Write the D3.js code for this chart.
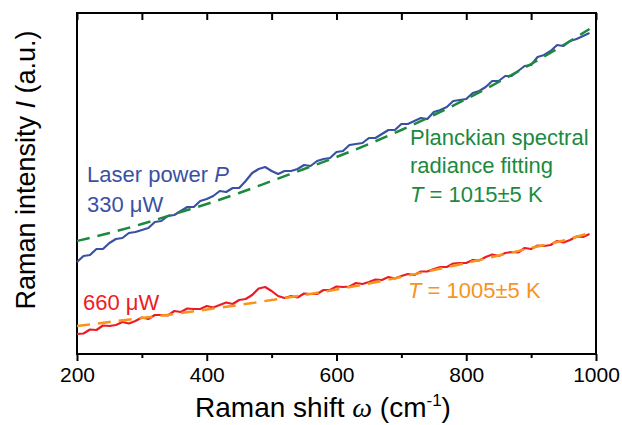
<!DOCTYPE html>
<html>
<head>
<meta charset="utf-8">
<script src="https://cdn.jsdelivr.net/npm/d3@7.9.0/dist/d3.min.js"></script>
<style>
  body { margin: 0; background: #fff; }
  svg { display: block; font-family: "Liberation Sans", Arial, sans-serif; }
</style>
</head>
<body>
<svg width="622" height="425"></svg>
<script>
// Raman shift grid of the measured spectra (cm-1)
const shift = d3.range(200, 1000, 10);

// measured spectrum, laser power 330 uW (a.u.)
const spec330 = [
  92, 98, 99, 105, 105, 111, 115, 116, 121, 122,
  124, 126, 132, 133, 138, 139, 143, 147, 147, 153,
  155, 158, 163, 162, 166, 166, 173, 181, 185, 187,
  183, 180, 183, 183, 185, 189, 188, 193, 195, 196,
  202, 203, 209, 210, 211, 216, 216, 220, 224, 224,
  230, 230, 233, 236, 235, 242, 244, 247, 253, 254,
  255, 261, 263, 267, 273, 273, 278, 278, 283, 288,
  289, 297, 299, 303, 309, 308, 313, 315, 318, 321
];

// measured spectrum, laser power 660 uW (a.u.)
const spec660 = [
  20, 20.5, 24.5, 24, 28.5, 28, 29, 32, 30.5, 33,
  36.5, 35, 39, 39, 38.5, 43, 42, 45.5, 45, 45,
  48, 46.5, 49, 51.5, 50, 54, 55, 59, 65.5, 67,
  63, 58, 56, 58, 56.5, 60.5, 60, 60, 64, 64,
  67.5, 67, 67.5, 71, 70, 72, 74.5, 74, 77, 75.5,
  78, 80, 79, 82.5, 82.5, 85, 87, 87, 90.5, 91,
  91, 94, 93.5, 97, 99.5, 98, 101, 102, 101.5, 106,
  105, 108.5, 108, 109, 113, 111.5, 114, 117.5, 117, 120
];

// Planckian fits
const fitShift = [200, 250, 300, 350, 400, 450, 500, 550, 600, 650, 700, 750, 800, 850, 900, 950, 990];
const fit330 = [113, 121, 130, 140, 150, 161, 173, 185, 197, 210, 224, 239, 255, 272, 290, 309, 325];
const fit660 = [28, 32, 36, 40, 44.5, 49, 54, 59, 64.5, 70.5, 77, 84, 91, 98.5, 106, 113.5, 121];

const majorTicks = [200, 400, 600, 800, 1000];
const minorTicks = [300, 500, 700, 900];

const svg = d3.select('svg');
const margin = { left: 77, top: 13, right: 26, bottom: 71 };
const w = 622 - margin.left - margin.right;
const h = 425 - margin.top - margin.bottom;

const x = d3.scaleLinear().domain([200, 1000]).range([0, w]);
const y = d3.scaleLinear().domain([0, 341]).range([h, 0]);

const g = svg.append('g').attr('transform', `translate(${margin.left},${margin.top})`);

// bottom axis: major ticks with labels, minor ticks shorter
let bottomAxis = g.append('g')
  .attr('transform', `translate(0,${h})`)
  .call(d3.axisBottom(x).tickValues(majorTicks).tickSizeInner(7).tickSizeOuter(0).tickPadding(6).tickFormat(d3.format('d')));
bottomAxis.select('.domain').remove();
bottomAxis.selectAll('line').attr('stroke-width', 2);
bottomAxis.selectAll('text').attr('font-size', 21).attr('fill', '#000').attr('font-family', '"Liberation Sans", Arial, sans-serif');

let bottomMinor = g.append('g')
  .attr('transform', `translate(0,${h})`)
  .call(d3.axisBottom(x).tickValues(minorTicks).tickSizeInner(4).tickSizeOuter(0).tickFormat(''));
bottomMinor.select('.domain').remove();
bottomMinor.selectAll('line').attr('stroke-width', 2);

// top axis: inward ticks
let topAxis = g.append('g')
  .call(d3.axisTop(x).tickValues(majorTicks.concat(minorTicks)).tickSizeInner(-7).tickSizeOuter(0).tickFormat(''));
topAxis.select('.domain').remove();
topAxis.selectAll('line').attr('stroke-width', 2);

// frame
g.append('rect')
  .attr('x', 0).attr('y', 0).attr('width', w).attr('height', h)
  .attr('fill', 'none').attr('stroke', '#000').attr('stroke-width', 2);

const plot = g.append('g');

const specLine = d3.line()
  .x((d, i) => x(shift[i]))
  .y(d => y(d));

const fitLine = d3.line()
  .x((d, i) => x(fitShift[i]))
  .y(d => y(d))
  .curve(d3.curveMonotoneX);

plot.append('path').attr('d', specLine(spec330))
  .attr('fill', 'none').attr('stroke', '#3a51a3').attr('stroke-width', 2.2).attr('stroke-linejoin', 'round');
plot.append('path').attr('d', specLine(spec660))
  .attr('fill', 'none').attr('stroke', '#ed1c24').attr('stroke-width', 2.2).attr('stroke-linejoin', 'round');

plot.append('path').attr('d', fitLine(fit330))
  .attr('fill', 'none').attr('stroke', '#1b8a3e').attr('stroke-width', 2.5).attr('stroke-dasharray', '13,8');
plot.append('path').attr('d', fitLine(fit660))
  .attr('fill', 'none').attr('stroke', '#f7941d').attr('stroke-width', 2.5).attr('stroke-dasharray', '13,8');

// annotations
function label(xp, yp, color, parts) {
  const t = svg.append('text').attr('x', xp).attr('y', yp)
    .attr('fill', color).attr('font-size', 22);
  parts.forEach(p => {
    t.append('tspan').text(p.t).attr('font-style', p.i ? 'italic' : null);
  });
}

label(87, 182, '#3a51a3', [{ t: 'Laser power ' }, { t: 'P', i: true }]);
label(87, 212, '#3a51a3', [{ t: '330 μW' }]);
label(83, 310, '#ed1c24', [{ t: '660 μW' }]);
label(410, 145, '#1b8a3e', [{ t: 'Planckian spectral' }]);
label(410, 173, '#1b8a3e', [{ t: 'radiance fitting' }]);
label(410, 202, '#1b8a3e', [{ t: 'T', i: true }, { t: ' = 1015±5 K' }]);
label(408, 298, '#f7941d', [{ t: 'T', i: true }, { t: ' = 1005±5 K' }]);

// axis titles
const xt = svg.append('text').attr('x', 323).attr('y', 417)
  .attr('text-anchor', 'middle').attr('font-size', 28).attr('fill', '#000');
xt.append('tspan').text('Raman shift ');
xt.append('tspan').text('ω').attr('font-style', 'italic').attr('font-family', '"Liberation Serif", "Times New Roman", serif');
xt.append('tspan').text(' (cm');
xt.append('tspan').text('-1').attr('font-size', 17).attr('dy', -11);
xt.append('tspan').text(')').attr('dy', 11);

const yt = svg.append('text')
  .attr('transform', 'translate(35,170) rotate(-90)')
  .attr('text-anchor', 'middle').attr('font-size', 27).attr('fill', '#000');
yt.append('tspan').text('Raman intensity ');
yt.append('tspan').text('I').attr('font-style', 'italic');
yt.append('tspan').text(' (a.u.)');
</script>
</body>
</html>
